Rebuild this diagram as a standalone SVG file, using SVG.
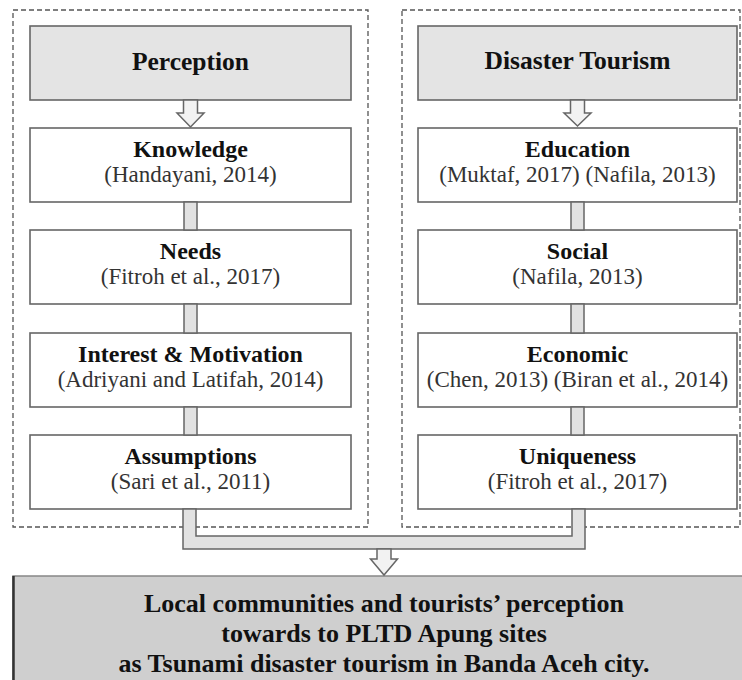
<svg xmlns="http://www.w3.org/2000/svg" width="742" height="680" viewBox="0 0 742 680">
<defs>
<style>
.dash{fill:none;stroke:#555;stroke-width:1.3;stroke-dasharray:5,3}
.hdr{fill:#e4e4e4;stroke:#666;stroke-width:1.6}
.box{fill:#fff;stroke:#666;stroke-width:1.6}
.bar{fill:#e2e2e2;stroke:#666;stroke-width:1.5}
.arr{fill:#f2f2f2;stroke:#666;stroke-width:1.5;stroke-linejoin:miter}
</style>
</defs>
<g id="frames">
<rect class="dash" x="13" y="10" width="355" height="517"/>
<rect class="dash" x="402" y="10" width="338" height="517"/>
</g>
<g id="perception"><rect class="hdr" x="30" y="26" width="321" height="74"/><text font-family="Liberation Serif" font-weight="bold" font-size="25.5" text-anchor="middle" fill="#111" x="190.5" y="70">Perception</text></g>
<g id="knowledge"><rect class="box" x="30" y="128" width="321" height="74"/><text font-family="Liberation Serif" font-weight="bold" font-size="24" text-anchor="middle" fill="#111" x="190.5" y="157">Knowledge</text><text font-family="Liberation Serif" font-size="23" text-anchor="middle" fill="#333" x="190.5" y="182">(Handayani, 2014)</text></g>
<g id="needs"><rect class="box" x="30" y="230" width="321" height="74"/><text font-family="Liberation Serif" font-weight="bold" font-size="24" text-anchor="middle" fill="#111" x="190.5" y="259">Needs</text><text font-family="Liberation Serif" font-size="23" text-anchor="middle" fill="#333" x="190.5" y="284">(Fitroh et al., 2017)</text></g>
<g id="interest"><rect class="box" x="30" y="333" width="321" height="74"/><text font-family="Liberation Serif" font-weight="bold" font-size="24" text-anchor="middle" fill="#111" x="190.5" y="362">Interest &amp; Motivation</text><text font-family="Liberation Serif" font-size="23" text-anchor="middle" fill="#333" x="190.5" y="387">(Adriyani and Latifah, 2014)</text></g>
<g id="assumptions"><rect class="box" x="30" y="435" width="321" height="74"/><text font-family="Liberation Serif" font-weight="bold" font-size="24" text-anchor="middle" fill="#111" x="190.5" y="464">Assumptions</text><text font-family="Liberation Serif" font-size="23" text-anchor="middle" fill="#333" x="190.5" y="489">(Sari et al., 2011)</text></g>
<g id="disaster-tourism"><rect class="hdr" x="418" y="26" width="319" height="74"/><text font-family="Liberation Serif" font-weight="bold" font-size="25.5" text-anchor="middle" fill="#111" x="577.5" y="69">Disaster Tourism</text></g>
<g id="education"><rect class="box" x="418" y="128" width="319" height="74"/><text font-family="Liberation Serif" font-weight="bold" font-size="24" text-anchor="middle" fill="#111" x="577.5" y="157">Education</text><text font-family="Liberation Serif" font-size="23" text-anchor="middle" fill="#333" x="577.5" y="182">(Muktaf, 2017) (Nafila, 2013)</text></g>
<g id="social"><rect class="box" x="418" y="230" width="319" height="74"/><text font-family="Liberation Serif" font-weight="bold" font-size="24" text-anchor="middle" fill="#111" x="577.5" y="259">Social</text><text font-family="Liberation Serif" font-size="23" text-anchor="middle" fill="#333" x="577.5" y="284">(Nafila, 2013)</text></g>
<g id="economic"><rect class="box" x="418" y="333" width="319" height="74"/><text font-family="Liberation Serif" font-weight="bold" font-size="24" text-anchor="middle" fill="#111" x="577.5" y="362">Economic</text><text font-family="Liberation Serif" font-size="23" text-anchor="middle" fill="#333" x="577.5" y="387">(Chen, 2013) (Biran et al., 2014)</text></g>
<g id="uniqueness"><rect class="box" x="418" y="435" width="319" height="74"/><text font-family="Liberation Serif" font-weight="bold" font-size="24" text-anchor="middle" fill="#111" x="577.5" y="464">Uniqueness</text><text font-family="Liberation Serif" font-size="23" text-anchor="middle" fill="#333" x="577.5" y="489">(Fitroh et al., 2017)</text></g>
<g id="result"><rect x="13" y="576" width="740" height="120" fill="#cfcfcf" stroke="#888" stroke-width="1.5"/><line x1="13.5" y1="576" x2="13.5" y2="680" stroke="#333" stroke-width="2.5"/>
<text font-family="Liberation Serif" font-weight="bold" font-size="26" text-anchor="middle" fill="#111" x="384" y="612">Local communities and tourists’ perception</text>
<text font-family="Liberation Serif" font-weight="bold" font-size="26" text-anchor="middle" fill="#111" x="384" y="642">towards to PLTD Apung sites</text>
<text font-family="Liberation Serif" font-weight="bold" font-size="26" text-anchor="middle" fill="#111" x="384" y="672">as Tsunami disaster tourism in Banda Aceh city.</text></g>
<g id="connectors">
<polygon class="arr" points="183.5,100 197.5,100 197.5,113 204,113 190.5,127 177,113 183.5,113"/>
<polygon class="arr" points="570.5,100 584.5,100 584.5,113 591,113 577.5,126 564,113 570.5,113"/>
<rect class="bar" x="184" y="202" width="13" height="28"/>
<rect class="bar" x="184" y="304" width="13" height="29"/>
<rect class="bar" x="184" y="407" width="13" height="28"/>
<rect class="bar" x="571" y="202" width="13" height="28"/>
<rect class="bar" x="571" y="304" width="13" height="29"/>
<rect class="bar" x="571" y="407" width="13" height="28"/>
<polygon class="bar" points="183,509 183,549 585,549 585,509 572,509 572,536 196,536 196,509"/>
<polygon class="arr" points="377,549 391,549 391,559 397.5,559 384,575 370.5,559 377,559"/>
</g>
</svg>
